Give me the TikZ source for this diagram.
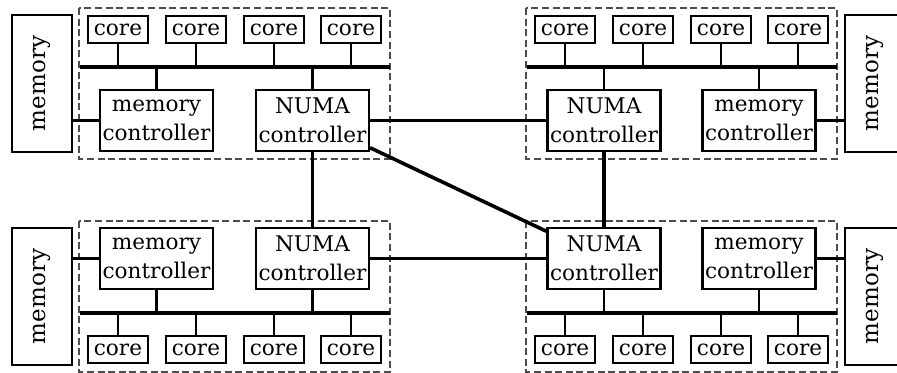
\documentclass[tikz,border=0pt]{standalone}
\usepackage{graphicx}
\usepackage{fontspec}
\setmainfont{DejaVu Serif}
\usetikzlibrary{positioning}

\begin{document}
\begin{tikzpicture}[x=0.5pt,y=-0.5pt,
	box/.style={draw,line width=1.1pt,inner sep=0pt,align=center,font=\fontsize{10.8}{14.5}\selectfont},
	core/.style={box,minimum width=30pt,minimum height=13.5pt},
	ctrl/.style={box,minimum width=56.5pt,minimum height=30.5pt},
	mem/.style={box,minimum width=30pt,minimum height=68.5pt,font=\fontsize{11.5}{14.5}\selectfont},
	cluster/.style={draw=black!70,line width=0.6pt,dash pattern=on 3.5pt off 1.8pt},
	bus/.style={line width=1.8pt},
	wire/.style={line width=1.1pt},
	link/.style={line width=1.8pt}
	]
	\useasboundingbox (0,0) rectangle (897,373);
	% the four sockets
	\draw[cluster] (79,8) rectangle (390,159);
	\draw[cluster] (526,8) rectangle (837,159);
	\draw[cluster] (79,221) rectangle (390,372);
	\draw[cluster] (526,221) rectangle (837,372);
	% buses
	\coordinate (tlbus) at (80,67); \coordinate (tlbuse) at (390,67);
	\coordinate (trbus) at (527,67); \coordinate (trbuse) at (837,67);
	\coordinate (blbus) at (80,313); \coordinate (blbuse) at (390,313);
	\coordinate (brbus) at (527,313); \coordinate (brbuse) at (837,313);
	\draw[bus] (tlbus) -- (tlbuse);
	\draw[bus] (trbus) -- (trbuse);
	\draw[bus] (blbus) -- (blbuse);
	\draw[bus] (brbus) -- (brbuse);
	% cores
	\foreach \i/\x in {1/39,2/117,3/195,4/272}{
		\node[core] (tlc\i) at (79+\x,29.5) {core};
		\draw[wire] (tlc\i.south) -- (tlc\i.south |- tlbus);
		\node[core] (trc\i) at (526+\x,29.5) {core};
		\draw[wire] (trc\i.south) -- (trc\i.south |- trbus);
		\node[core] (blc\i) at (79+\x,349.5) {core};
		\draw[wire] (blc\i.north) -- (blc\i.north |- blbus);
		\node[core] (brc\i) at (526+\x,349.5) {core};
		\draw[wire] (brc\i.north) -- (brc\i.north |- brbus);
	}
	% controllers
	\node[ctrl] (tlmc) at (156.5,120.5) {memory\\controller};
	\node[ctrl] (tlnuma) at (312.5,120.5) {NUMA\\controller};
	\node[ctrl] (trnuma) at (604,120.5) {NUMA\\controller};
	\node[ctrl] (trmc) at (759,120.5) {memory\\controller};
	\node[ctrl] (blmc) at (156.5,258.5) {memory\\controller};
	\node[ctrl] (blnuma) at (312.5,258.5) {NUMA\\controller};
	\node[ctrl] (brnuma) at (604,258.5) {NUMA\\controller};
	\node[ctrl] (brmc) at (759,258.5) {memory\\controller};
	\foreach \n in {tlmc,tlnuma,trnuma,trmc}
		\draw[wire] (\n.north) -- (\n.north |- tlbus);
	\foreach \n in {blmc,blnuma,brnuma,brmc}
		\draw[wire] (\n.south) -- (\n.south |- blbus);
	% memories
	\node[mem] (tlmem) at (42,83.5) {\rotatebox{90}{memory}};
	\node[mem] (trmem) at (875,83.5) {\rotatebox{90}{memory}};
	\node[mem] (blmem) at (42,296.5) {\rotatebox{90}{memory}};
	\node[mem] (brmem) at (875,296.5) {\rotatebox{90}{memory}};
	\draw[wire] (tlmc.west) -- (tlmc.west -| tlmem.east);
	\draw[wire] (blmc.west) -- (blmc.west -| blmem.east);
	\draw[wire] (trmc.east) -- (trmc.east -| trmem.west);
	\draw[wire] (brmc.east) -- (brmc.east -| brmem.west);
	% interconnect
	\draw[link] (tlnuma) -- (trnuma);
	\draw[link] (blnuma) -- (brnuma);
	\draw[link] (tlnuma) -- (blnuma);
	\draw[link] (trnuma) -- (brnuma);
	\draw[link] (tlnuma) -- (brnuma);
\end{tikzpicture}
\end{document}
